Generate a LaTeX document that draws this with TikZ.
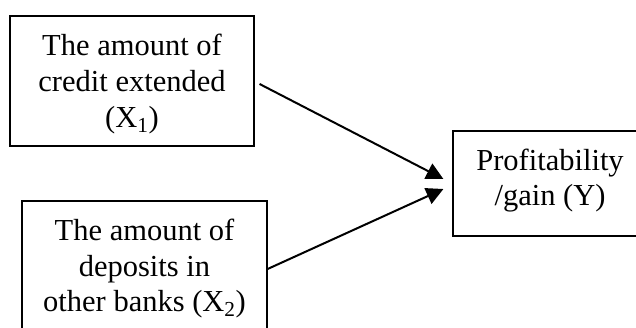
\documentclass[tikz,border=0pt]{standalone}
\usepackage{fontspec}
\setmainfont{Liberation Serif}
\usetikzlibrary{arrows.meta}
\tikzset{
  boxnode/.style={draw=black, line width=1.2pt, rectangle, inner sep=0pt},
  txt/.style={align=center, inner sep=0pt, font=\fontsize{30.5}{35}\selectfont},
  link/.style={line width=2pt, -{Triangle[length=17pt,width=17pt]}}
}
\begin{document}
\begin{tikzpicture}[x=1pt,y=-1pt]
\useasboundingbox (0,0) rectangle (636,327);
\clip (0,0) rectangle (636,327);
% boxes
\node[boxnode, minimum width=244pt, minimum height=130pt] (b1) at (132,81) {};
\node[boxnode, minimum width=245pt, minimum height=150pt] (b2) at (144.5,276) {};
\node[boxnode, minimum width=200pt, minimum height=105pt] (b3) at (553,183.5) {};
% texts
\node[txt, anchor=base] (t1a) at (132,55) {The amount of};
\node[txt, anchor=base] (t1b) at (132,91) {credit extended};
\node[txt, anchor=base] (t1c) at (132,127) {(X\textsubscript{1})};
\node[txt, anchor=base] (t2a) at (144.5,240) {The amount of};
\node[txt, anchor=base] (t2b) at (144.5,276) {deposits in};
\node[txt, anchor=base] (t2c) at (144.5,311) {other banks (X\textsubscript{2})};
\node[txt, anchor=base] (t3a) at (550,170) {Profitability};
\node[txt, anchor=base] (t3b) at (550,205) {/gain (Y)};
% connectors
\draw[link] ([xshift=5pt,yshift=-3pt]b1.east) -- ([xshift=-9pt,yshift=4.5pt]b3.west);
\draw[link] ([yshift=7pt]b2.east) -- ([xshift=-9pt,yshift=-5.5pt]b3.west);
\end{tikzpicture}
\end{document}
